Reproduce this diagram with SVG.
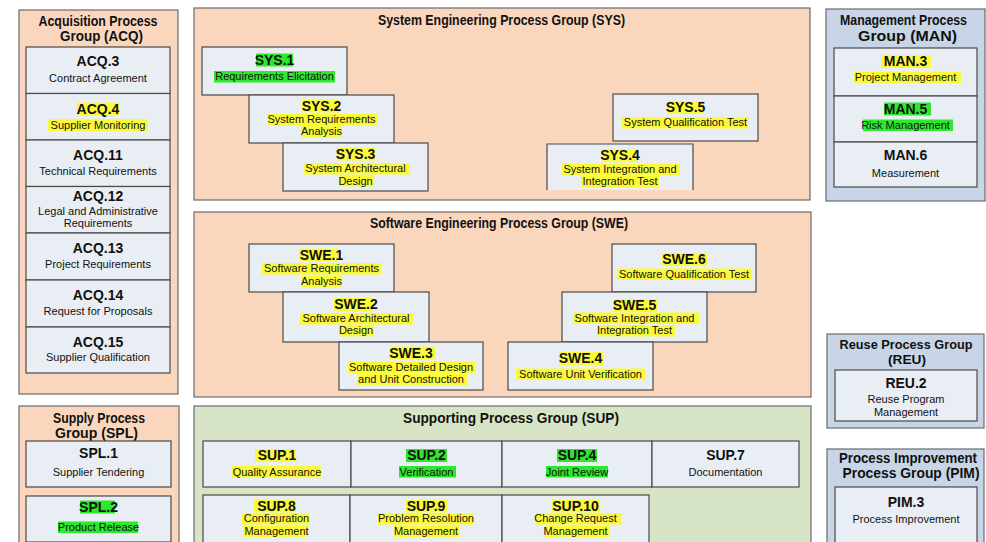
<svg xmlns="http://www.w3.org/2000/svg" width="986" height="542" viewBox="0 0 986 542">
<style>
.grp{stroke:#6b6b6b;stroke-width:1.2}
.peach{fill:#F9D6BC}
.blue{fill:#C7D5E6}
.sgreen{fill:#D8E4C6}
.node{fill:#E9EEF5;stroke:#4a4a4a;stroke-width:1.2}
.hy{fill:#FAFA3A}
.hg{fill:#2EE82E}
text{font-family:"Liberation Sans",Arial,sans-serif;text-anchor:middle;fill:#111}
.ti{font-size:14px;font-weight:bold}
.c{font-size:14px;font-weight:bold}
.s{font-size:11px}
</style>
<rect width="986" height="542" fill="#ffffff"/>

<!-- Groups -->
<g id="grp-acq">
<rect class="grp peach" x="19" y="10" width="159" height="384"/>
<text class="ti" x="98" y="25.5" textLength="119" lengthAdjust="spacingAndGlyphs">Acquisition Process</text>
<text class="ti" x="101.5" y="41" textLength="83" lengthAdjust="spacingAndGlyphs">Group (ACQ)</text>
</g>
<g id="grp-spl">
<rect class="grp peach" x="19" y="406" width="160" height="140"/>
<text class="ti" x="99" y="423" textLength="92" lengthAdjust="spacingAndGlyphs">Supply Process</text>
<text class="ti" x="96.5" y="438" textLength="83" lengthAdjust="spacingAndGlyphs">Group (SPL)</text>
</g>
<g id="grp-sys">
<rect class="grp peach" x="194" y="8" width="616" height="192"/>
<text class="ti" x="501.5" y="25" textLength="247" lengthAdjust="spacingAndGlyphs">System Engineering Process Group (SYS)</text>
</g>
<g id="grp-swe">
<rect class="grp peach" x="194" y="212" width="617" height="185"/>
<text class="ti" x="499" y="228" textLength="258" lengthAdjust="spacingAndGlyphs">Software Engineering Process Group (SWE)</text>
</g>
<g id="grp-sup">
<rect class="grp sgreen" x="194" y="406" width="617" height="140"/>
<text class="ti" x="511" y="423" textLength="216" lengthAdjust="spacingAndGlyphs">Supporting Process Group (SUP)</text>
</g>
<g id="grp-man">
<rect class="grp blue" x="826" y="9" width="159" height="192"/>
<text class="ti" x="903.5" y="24.5" textLength="127" lengthAdjust="spacingAndGlyphs">Management Process</text>
<text class="ti" x="907.5" y="41" style="font-size:15.5px" textLength="99" lengthAdjust="spacingAndGlyphs">Group (MAN)</text>
</g>
<g id="grp-reu">
<rect class="grp blue" x="827" y="334" width="157" height="94"/>
<text class="ti" x="906" y="349" style="font-size:13px" textLength="133" lengthAdjust="spacingAndGlyphs">Reuse Process Group</text>
<text class="ti" x="907" y="364" style="font-size:13px" textLength="38" lengthAdjust="spacingAndGlyphs">(REU)</text>
</g>
<g id="grp-pim">
<rect class="grp blue" x="827" y="449" width="157" height="100"/>
<text class="ti" x="908" y="462.5" textLength="138" lengthAdjust="spacingAndGlyphs">Process Improvement</text>
<text class="ti" x="911" y="478" textLength="137" lengthAdjust="spacingAndGlyphs">Process Group (PIM)</text>
</g>

<!-- ACQ nodes -->
<g id="ACQ.3">
<rect class="node" x="26" y="47" width="144" height="46.5"/>
<text class="c" x="98" y="65.5">ACQ.3</text>
<text class="s" x="98" y="81.5">Contract Agreement</text>
</g>
<g id="ACQ.4">
<rect class="node" x="26" y="93.5" width="144" height="46.5"/>
<rect class="hy" x="77" y="102.5" width="42" height="13"/>
<rect class="hy" x="48" y="119" width="100" height="12"/>
<text class="c" x="98" y="113.5">ACQ.4</text>
<text class="s" x="98" y="128.5">Supplier Monitoring</text>
</g>
<g id="ACQ.11">
<rect class="node" x="26" y="140" width="144" height="46.5"/>
<text class="c" x="98" y="160">ACQ.11</text>
<text class="s" x="98" y="174.5">Technical Requirements</text>
</g>
<g id="ACQ.12">
<rect class="node" x="26" y="186.5" width="144" height="46.5"/>
<text class="c" x="98" y="201">ACQ.12</text>
<text class="s" x="98" y="215">Legal and Administrative</text>
<text class="s" x="98" y="227">Requirements</text>
</g>
<g id="ACQ.13">
<rect class="node" x="26" y="233" width="144" height="47"/>
<text class="c" x="98" y="253">ACQ.13</text>
<text class="s" x="98" y="268">Project Requirements</text>
</g>
<g id="ACQ.14">
<rect class="node" x="26" y="280" width="144" height="47"/>
<text class="c" x="98" y="300">ACQ.14</text>
<text class="s" x="98" y="314.5">Request for Proposals</text>
</g>
<g id="ACQ.15">
<rect class="node" x="26" y="327" width="144" height="46"/>
<text class="c" x="98" y="346.5">ACQ.15</text>
<text class="s" x="98" y="361">Supplier Qualification</text>
</g>

<!-- SYS nodes -->
<g id="SYS.1">
<rect class="node" x="202" y="47" width="145" height="48"/>
<rect class="hg" x="256" y="53.5" width="37" height="13"/>
<rect class="hg" x="214" y="71" width="121" height="11.5"/>
<text class="c" x="274.5" y="64.5">SYS.1</text>
<text class="s" x="274.5" y="80">Requirements Elicitation</text>
</g>
<g id="SYS.2">
<rect class="node" x="249" y="95" width="145" height="48"/>
<rect class="hy" x="302" y="99.5" width="38" height="13"/>
<rect class="hy" x="267" y="114" width="110" height="11.5"/>
<rect class="hy" x="301" y="126" width="41" height="11.5"/>
<text class="c" x="321.5" y="110.5">SYS.2</text>
<text class="s" x="321.5" y="123">System Requirements</text>
<text class="s" x="321.5" y="135">Analysis</text>
</g>
<g id="SYS.3">
<rect class="node" x="283" y="143" width="145" height="48"/>
<rect class="hy" x="337" y="147.5" width="38" height="13"/>
<rect class="hy" x="304" y="163" width="106" height="11.5"/>
<rect class="hy" x="340" y="175" width="34" height="11.5"/>
<text class="c" x="355.5" y="158.5">SYS.3</text>
<text class="s" x="355.5" y="172">System Architectural</text>
<text class="s" x="355.5" y="184.5">Design</text>
</g>
<g id="SYS.5">
<rect class="node" x="613" y="94" width="145" height="47"/>
<rect class="hy" x="668" y="101" width="36" height="13"/>
<rect class="hy" x="622" y="117" width="126" height="11.5"/>
<text class="c" x="685.5" y="112">SYS.5</text>
<text class="s" x="685.5" y="126">System Qualification Test</text>
</g>
<g id="SYS.4">
<rect x="547" y="144" width="146" height="46" fill="#E9EEF5"/>
<path d="M547 190 V144 H693 V190" fill="none" stroke="#4a4a4a" stroke-width="1.2"/>
<rect class="hy" x="602" y="149" width="36" height="13"/>
<rect class="hy" x="562" y="163.5" width="118" height="11.5"/>
<rect class="hy" x="581" y="176" width="78" height="11.5"/>
<text class="c" x="620" y="160">SYS.4</text>
<text class="s" x="620" y="172.5">System Integration and</text>
<text class="s" x="620" y="185">Integration Test</text>
</g>

<!-- SWE nodes -->
<g id="SWE.1">
<rect class="node" x="249" y="244" width="145" height="48"/>
<rect class="hy" x="299" y="248.5" width="39" height="13"/>
<rect class="hy" x="262" y="263" width="119" height="11.5"/>
<rect class="hy" x="301" y="275.5" width="41" height="11.5"/>
<text class="c" x="321.5" y="260">SWE.1</text>
<text class="s" x="321.5" y="272">Software Requirements</text>
<text class="s" x="321.5" y="284.5">Analysis</text>
</g>
<g id="SWE.2">
<rect class="node" x="283" y="292" width="146" height="50"/>
<rect class="hy" x="334" y="298" width="39" height="13"/>
<rect class="hy" x="300" y="313" width="113" height="11.5"/>
<rect class="hy" x="339" y="325" width="35" height="11.5"/>
<text class="c" x="356" y="309">SWE.2</text>
<text class="s" x="356" y="322">Software Architectural</text>
<text class="s" x="356" y="334">Design</text>
</g>
<g id="SWE.3">
<rect class="node" x="339" y="342" width="144" height="48"/>
<rect class="hy" x="389" y="346.5" width="46" height="13"/>
<rect class="hy" x="348" y="361.5" width="127" height="11.5"/>
<rect class="hy" x="357" y="374" width="110" height="11.5"/>
<text class="c" x="411" y="357.5">SWE.3</text>
<text class="s" x="411" y="370.5">Software Detailed Design</text>
<text class="s" x="411" y="383">and Unit Construction</text>
</g>
<g id="SWE.6">
<rect class="node" x="612" y="244" width="144" height="48"/>
<rect class="hy" x="662" y="253" width="45" height="13"/>
<rect class="hy" x="617" y="268.5" width="135" height="11.5"/>
<text class="c" x="684" y="264">SWE.6</text>
<text class="s" x="684" y="277.5">Software Qualification Test</text>
</g>
<g id="SWE.5">
<rect class="node" x="562" y="292" width="145" height="50"/>
<rect class="hy" x="613" y="299" width="44" height="13"/>
<rect class="hy" x="573" y="312.5" width="126" height="11.5"/>
<rect class="hy" x="597" y="325" width="78" height="11.5"/>
<text class="c" x="634.5" y="310">SWE.5</text>
<text class="s" x="634.5" y="321.5">Software Integration and</text>
<text class="s" x="634.5" y="334">Integration Test</text>
</g>
<g id="SWE.4">
<rect class="node" x="508" y="342" width="145" height="48"/>
<rect class="hy" x="559" y="352" width="44" height="13"/>
<rect class="hy" x="516" y="368.5" width="130" height="11.5"/>
<text class="c" x="580.5" y="363">SWE.4</text>
<text class="s" x="580.5" y="377.5">Software Unit Verification</text>
</g>

<!-- MAN nodes -->
<g id="MAN.3">
<rect class="node" x="834" y="48" width="143" height="48"/>
<rect class="hy" x="881" y="55" width="50" height="13"/>
<rect class="hy" x="854" y="71.5" width="107" height="11.5"/>
<text class="c" x="905.5" y="66">MAN.3</text>
<text class="s" x="905.5" y="80.5">Project Management</text>
</g>
<g id="MAN.5">
<rect class="node" x="834" y="96" width="143" height="46"/>
<rect class="hg" x="884" y="102.5" width="47" height="13"/>
<rect class="hg" x="863" y="119.5" width="90" height="11.5"/>
<text class="c" x="905.5" y="113.5">MAN.5</text>
<text class="s" x="905.5" y="128.5">Risk Management</text>
</g>
<g id="MAN.6">
<rect class="node" x="834" y="142" width="143" height="45"/>
<text class="c" x="905.5" y="160">MAN.6</text>
<text class="s" x="905.5" y="176.5">Measurement</text>
</g>

<!-- REU / PIM -->
<g id="REU.2">
<rect class="node" x="835" y="370" width="142" height="51"/>
<text class="c" x="906" y="388">REU.2</text>
<text class="s" x="906" y="403">Reuse Program</text>
<text class="s" x="906" y="416">Management</text>
</g>
<g id="PIM.3">
<rect class="node" x="835" y="487" width="142" height="60"/>
<text class="c" x="906" y="507">PIM.3</text>
<text class="s" x="906" y="523">Process Improvement</text>
</g>

<!-- SPL nodes -->
<g id="SPL.1">
<rect class="node" x="26" y="441" width="145" height="46"/>
<text class="c" x="98.5" y="458">SPL.1</text>
<text class="s" x="98.5" y="475.5">Supplier Tendering</text>
</g>
<g id="SPL.2">
<rect class="node" x="26" y="496" width="145" height="46"/>
<rect class="hg" x="80" y="500.5" width="35" height="13"/>
<rect class="hg" x="58" y="521.5" width="80" height="11.5"/>
<text class="c" x="98.5" y="512">SPL.2</text>
<text class="s" x="98.5" y="530.5">Product Release</text>
</g>

<!-- SUP nodes -->
<g id="SUP.1">
<rect class="node" x="203" y="441" width="148" height="46"/>
<rect class="hy" x="255" y="449" width="41" height="13"/>
<rect class="hy" x="232" y="466" width="89" height="11.5"/>
<text class="c" x="277" y="460">SUP.1</text>
<text class="s" x="277" y="475.5">Quality Assurance</text>
</g>
<g id="SUP.2">
<rect class="node" x="351" y="441" width="151" height="46"/>
<rect class="hg" x="406" y="449" width="41" height="13"/>
<rect class="hg" x="399" y="466" width="57" height="11.5"/>
<text class="c" x="426.5" y="460">SUP.2</text>
<text class="s" x="426.5" y="475.5">Verification</text>
</g>
<g id="SUP.4">
<rect class="node" x="502" y="441" width="150" height="46"/>
<rect class="hg" x="557" y="449" width="40" height="13"/>
<rect class="hg" x="546" y="466" width="62" height="11.5"/>
<text class="c" x="577" y="460">SUP.4</text>
<text class="s" x="577" y="475.5">Joint Review</text>
</g>
<g id="SUP.7">
<rect class="node" x="652" y="441" width="147" height="46"/>
<text class="c" x="725.5" y="460">SUP.7</text>
<text class="s" x="725.5" y="475.5">Documentation</text>
</g>
<g id="SUP.8">
<rect class="node" x="203" y="495" width="147" height="50"/>
<rect class="hy" x="254" y="499.5" width="42" height="13"/>
<rect class="hy" x="242" y="513" width="67" height="11.5"/>
<rect class="hy" x="243" y="525.5" width="65" height="11.5"/>
<text class="c" x="276.5" y="510.5">SUP.8</text>
<text class="s" x="276.5" y="522">Configuration</text>
<text class="s" x="276.5" y="534.5">Management</text>
</g>
<g id="SUP.9">
<rect class="node" x="350" y="495" width="152" height="50"/>
<rect class="hy" x="406" y="499.5" width="41" height="13"/>
<rect class="hy" x="378" y="513" width="96" height="11.5"/>
<rect class="hy" x="394" y="525.5" width="65" height="11.5"/>
<text class="c" x="426" y="510.5">SUP.9</text>
<text class="s" x="426" y="522">Problem Resolution</text>
<text class="s" x="426" y="534.5">Management</text>
</g>
<g id="SUP.10">
<rect class="node" x="502" y="495" width="147" height="50"/>
<rect class="hy" x="552" y="499.5" width="48" height="13"/>
<rect class="hy" x="536" y="513" width="85" height="11.5"/>
<rect class="hy" x="545" y="525.5" width="65" height="11.5"/>
<text class="c" x="575.5" y="510.5">SUP.10</text>
<text class="s" x="575.5" y="522">Change Request</text>
<text class="s" x="575.5" y="534.5">Management</text>
</g>

<g id="connectors"></g>
</svg>
